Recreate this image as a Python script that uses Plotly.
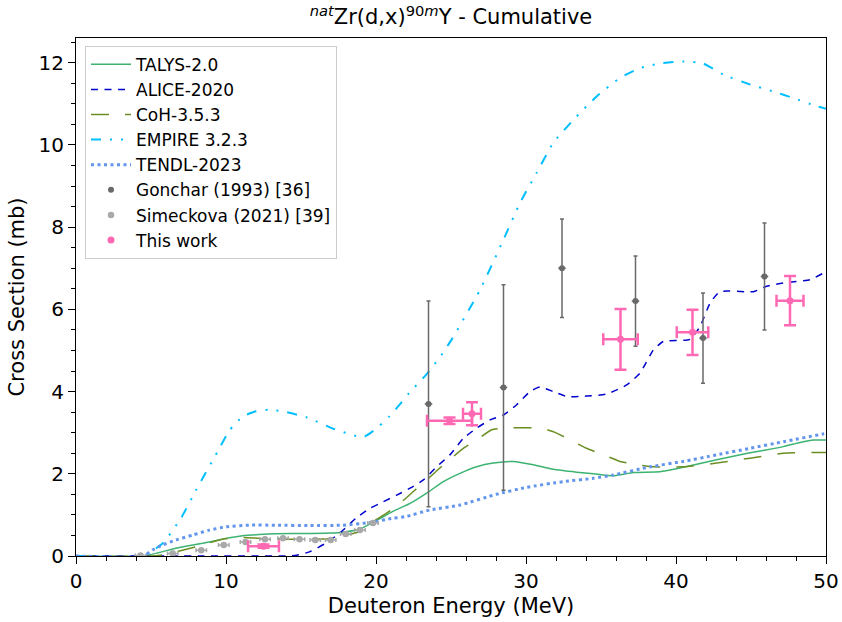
import plotly.graph_objects as go

# ---------------- data ----------------
talys_e = [0, 4.5, 5.5, 6.67, 7.5, 8.44, 9.78, 11.1, 12.2, 13.33, 15.56, 17.0, 17.78, 18.89, 20.0, 21.1,
           22.27, 23.38, 24.49, 25.6, 26.71, 27.82, 29.16, 30.49, 31.82, 33.38, 34.5, 35.82, 37.16, 38.93,
           40.49, 42.71, 44.93, 47.16, 48.27, 49.16, 50]
talys_s = [0, 0, 0.08, 0.19, 0.25, 0.31, 0.41, 0.49, 0.52, 0.54, 0.55, 0.56, 0.58, 0.65, 0.86, 1.08,
           1.28, 1.53, 1.81, 2.01, 2.17, 2.26, 2.30, 2.22, 2.11, 2.04, 2.0, 1.95, 2.03, 2.05,
           2.16, 2.34, 2.51, 2.66, 2.76, 2.82, 2.82]

alice_e = [0, 9, 14, 14.7, 15.56, 16.6, 17.56, 18.67, 19.6, 20.49, 21.38, 22.27, 23.16, 24.04, 24.93,
           25.82, 26.71, 27.6, 28.49, 29.38, 30.27, 30.93, 31.82, 32.71, 34.04, 35.38, 36.71, 37.6, 38.49,
           39.16, 40.93, 41.6, 42.27, 42.93, 45.16, 46.04, 47.16, 48.93, 49.82, 50]
alice_s = [0, 0, 0, 0.02, 0.1, 0.3, 0.55, 0.92, 1.16, 1.32, 1.48, 1.65, 1.85, 2.17, 2.46,
           2.86, 3.11, 3.31, 3.43, 3.68, 4.0, 4.11, 4.0, 3.88, 3.89, 3.94, 4.16, 4.45, 5.01,
           5.22, 5.27, 5.58, 6.15, 6.43, 6.43, 6.56, 6.64, 6.72, 6.88, 6.92]

coh_e = [0, 5.0, 5.8, 6.67, 8.44, 9.78, 11.1, 12.2, 13.8, 15.5, 17.0, 17.78, 18.89, 19.82, 20.71, 21.6,
         22.49, 23.38, 24.16, 24.93, 25.82, 26.71, 27.71, 28.71, 29.93, 31.04, 32.04, 33.16, 34.04, 35.16,
         36.27, 37.38, 38.49, 40.49, 42.71, 44.93, 47.16, 49.5, 50]
coh_s = [0, 0, 0.03, 0.1, 0.27, 0.41, 0.45, 0.43, 0.41, 0.41, 0.42, 0.49, 0.59, 0.84, 1.04, 1.28,
         1.57, 1.85, 2.11, 2.35, 2.62, 2.82, 3.07, 3.12, 3.12, 3.11, 2.99, 2.78, 2.62, 2.46,
         2.30, 2.22, 2.17, 2.17, 2.26, 2.38, 2.5, 2.52, 2.52]

empire_e = [0, 4.44, 5.78, 7.0, 8.0, 8.44, 9.44, 10.22, 11.1, 12.0, 12.9, 13.9, 15.4, 17.2, 18.67, 19.2,
            20.0, 20.9, 21.5, 22.2, 23.44, 24.44, 25.1, 26.93, 28.49, 29.6, 30.71, 31.82, 33.16, 34.71,
            36.27, 37.6, 38.93, 40.49, 41.82, 43.16, 44.93, 46.49, 47.82, 49.38, 50]
empire_s = [0, 0, 0.31, 0.92, 1.6, 1.89, 2.54, 3.05, 3.39, 3.52, 3.56, 3.51, 3.37, 3.09, 2.92, 2.9,
            3.09, 3.4, 3.65, 3.96, 4.45, 4.93, 5.3, 6.47, 7.69, 8.59, 9.32, 10.05, 10.61, 11.18,
            11.63, 11.87, 11.98, 12.03, 11.98, 11.71, 11.47, 11.30, 11.14, 10.94, 10.88]

tendl_e = [0, 4.5, 5.11, 5.78, 6.67, 7.78, 8.89, 10.0, 11.56, 13.33, 15.56, 17.78, 19.5, 21.16, 22.0,
           23.6, 25.6, 28.0, 30.04, 32.5, 34.49, 35.82, 38.27, 40.49, 42.71, 44.93, 47.16, 49.82, 50]
tendl_s = [0, 0, 0.15, 0.27, 0.39, 0.51, 0.63, 0.71, 0.75, 0.75, 0.74, 0.75, 0.81, 0.92, 0.96,
           1.12, 1.24, 1.5, 1.67, 1.81, 1.89, 1.97, 2.17, 2.30, 2.46, 2.62, 2.78, 2.97, 2.98]

gonchar_e = [23.5, 28.5, 32.4, 37.3, 41.8, 45.9]
gonchar_s = [3.70, 4.10, 7.00, 6.20, 5.30, 6.80]
gonchar_ds = [2.5, 2.5, 1.2, 1.1, 1.1, 1.3]
gonchar_de = [0.25, 0.25, 0.25, 0.25, 0.25, 0.25]

sim_e = [4.3, 6.45, 8.35, 9.85, 11.3, 12.6, 13.8, 14.9, 15.95, 16.98, 17.98, 18.93, 19.8]
sim_s = [0.01, 0.06, 0.14, 0.27, 0.34, 0.41, 0.43, 0.41, 0.39, 0.39, 0.535, 0.63, 0.80]
sim_ds = [0.02, 0.02, 0.03, 0.03, 0.03, 0.03, 0.03, 0.03, 0.03, 0.03, 0.04, 0.04, 0.05]
sim_de = [0.35] * 13

tw_e = [12.5, 24.9, 26.4, 36.3, 41.1, 47.6]
tw_s = [0.24, 3.29, 3.46, 5.27, 5.44, 6.21]
tw_de = [1.03, 1.5, 0.6, 1.15, 1.05, 0.9]
tw_ds = [0.04, 0.08, 0.28, 0.74, 0.55, 0.6]

FONT = "DejaVu Sans, Arial, sans-serif"

fig = go.Figure()
shape = dict(shape="spline", smoothing=0.5)
fig.add_trace(go.Scatter(x=talys_e, y=talys_s, mode="lines", name="TALYS-2.0",
                         line=dict(color="#3CB371", width=1.5, **shape)))
fig.add_trace(go.Scatter(x=alice_e, y=alice_s, mode="lines", name="ALICE-2020",
                         line=dict(color="#0000CD", width=1.5, dash="7px,6.5px", **shape)))
fig.add_trace(go.Scatter(x=coh_e, y=coh_s, mode="lines", name="CoH-3.5.3",
                         line=dict(color="#6B8E23", width=1.5, dash="18px,16px", **shape)))
fig.add_trace(go.Scatter(x=empire_e, y=empire_s, mode="lines", name="EMPIRE 3.2.3",
                         line=dict(color="#00BFFF", width=2, dash="10px,9px,2px,9px,2px,9px", **shape)))
fig.add_trace(go.Scatter(x=tendl_e, y=tendl_s, mode="lines", name="TENDL-2023",
                         line=dict(color="#6495ED", width=3, dash="3px,3.5px", **shape)))

fig.add_trace(go.Scatter(x=gonchar_e, y=gonchar_s, mode="markers", name="Gonchar (1993) [36]",
                         marker=dict(color="#696969", size=6, symbol="circle"),
                         error_y=dict(type="data", array=gonchar_ds, color="#696969", thickness=1.5, width=2),
                         error_x=dict(type="data", array=gonchar_de, color="#696969", thickness=1.5, width=0)))
fig.add_trace(go.Scatter(x=sim_e, y=sim_s, mode="markers", name="Simeckova (2021) [39]",
                         marker=dict(color="#A9A9A9", size=6.5, symbol="circle"),
                         error_y=dict(type="data", array=sim_ds, color="#A9A9A9", thickness=1.5, width=2),
                         error_x=dict(type="data", array=sim_de, color="#A9A9A9", thickness=1.5, width=2)))
fig.add_trace(go.Scatter(x=tw_e, y=tw_s, mode="markers", name="This work",
                         marker=dict(color="#FF69B4", size=7, symbol="circle"),
                         error_y=dict(type="data", array=tw_ds, color="#FF69B4", thickness=2.5, width=6),
                         error_x=dict(type="data", array=tw_de, color="#FF69B4", thickness=2.5, width=6)))

axis_common = dict(showgrid=False, zeroline=False, showline=True, linecolor="black", linewidth=1,
                   mirror=True, ticks="outside", ticklen=7, tickwidth=1, tickcolor="black",
                   automargin=False,
                   tickfont=dict(family=FONT, size=20, color="black"))
fig.update_layout(
    width=842, height=622,
    margin=dict(l=76, r=16, t=38, b=66, autoexpand=False),
    paper_bgcolor="white", plot_bgcolor="white",
    font=dict(family=FONT, color="black"),
    title=dict(text="<sup><i>nat</i></sup>Zr(d,x)<sup>90<i>m</i></sup>Y - Cumulative",
               x=0.5, xref="paper", xanchor="center", y=1 - 17 / 622, yref="container", yanchor="middle",
               font=dict(family=FONT, size=21, color="black")),
    xaxis=dict(range=[0, 50], tickvals=[0, 10, 20, 30, 40, 50],
               minor=dict(dtick=2, ticklen=4, tickwidth=1, tickcolor="black", ticks="outside"),
               title=dict(text="Deuteron Energy (MeV)", font=dict(family=FONT, size=21), standoff=6),
               **axis_common),
    yaxis=dict(range=[0, 12.6], tickvals=[0, 2, 4, 6, 8, 10, 12],
               minor=dict(dtick=0.5, ticklen=4, tickwidth=1, tickcolor="black", ticks="outside"),
               title=dict(text="Cross Section (mb)", font=dict(family=FONT, size=21), standoff=8),
               **axis_common),
    legend=dict(x=0.012, y=0.985, xanchor="left", yanchor="top",
                bgcolor="rgba(255,255,255,0.8)", bordercolor="#CCCCCC", borderwidth=1,
                font=dict(family=FONT, size=17, color="black"), itemwidth=40,
                tracegroupgap=0),
    showlegend=True,
)

fig.write_html("out.html")
